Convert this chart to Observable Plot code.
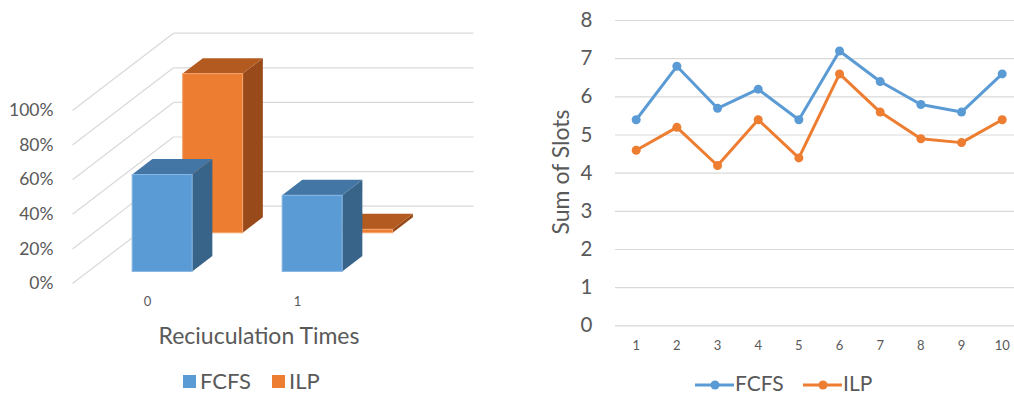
<!DOCTYPE html>
<html><head><meta charset="utf-8">
<script src="https://cdn.jsdelivr.net/npm/d3@7"></script>
<script src="https://cdn.jsdelivr.net/npm/@observablehq/plot@0.6"></script>
<style>
body{margin:0;background:#fff;font-family:Lato,"Open Sans",sans-serif;}
#wrap{position:relative;width:1014px;height:396px;overflow:hidden;background:#fff;color:#595959}
.abs{position:absolute;white-space:nowrap}
</style></head><body><div id="wrap"></div>
<script>
// ---- data ----
const categories = [0, 1];
const seriesNames = ["FCFS", "ILP"];
const fcfsShare = [0.56, 0.44];
const ilpShare = [0.92, 0.02];
const pctTicks = [0, 0.2, 0.4, 0.6, 0.8, 1];
const runs = [1, 2, 3, 4, 5, 6, 7, 8, 9, 10];
const fcfsSlots = [5.4, 6.8, 5.7, 6.2, 5.4, 7.2, 6.4, 5.8, 5.6, 6.6];
const ilpSlots = [4.6, 5.2, 4.2, 5.4, 4.4, 6.6, 5.6, 4.9, 4.8, 5.4];
const slotTicks = [0, 1, 2, 3, 4, 5, 6, 7, 8];
const leftXTitle = "Reciuculation Times";
const rightYTitle = "Sum of Slots";

// ---- styles ----
const TEXT = "#595959";
const GRID = "#D9D9D9";
const faceColors = {
  FCFS: {front: "#5B9BD5", top: "#4376A5", side: "#386489", edge: "#86B5E2"},
  ILP: {front: "#ED7D31", top: "#B35A20", side: "#984A1A", edge: "#F4A26C"}
};
const lineColors = ["#5B9BD5", "#ED7D31"];

// oblique 3D projection: depth t in [0,1] shifts x by KX category units, y by KY value units
const KX = 0.6733, KY = 0.4468, HALF = 0.2, DEPTH = 0.2;

const wrap = document.getElementById("wrap");

// ---- left: 3D column chart ----
const bars = [];
seriesNames.forEach((s, si) => {
  const vals = si === 0 ? fcfsShare : ilpShare;
  categories.forEach((c, ci) => {
    const t0 = si * 0.5 + 0.15, t1 = t0 + DEPTH;
    bars.push({series: s, cat: c, v: vals[ci], t0, t1, id: s + "-" + c});
  });
});
const fronts = bars.map(b => ({...b,
  x1: b.cat - HALF + b.t0 * KX, x2: b.cat + HALF + b.t0 * KX,
  y1: b.t0 * KY, y2: b.v + b.t0 * KY}));
const tops = bars.flatMap(b => [b.t0, b.t1].map(t => ({series: b.series, id: b.id,
  y: b.v + t * KY, x1: b.cat - HALF + t * KX, x2: b.cat + HALF + t * KX})));
const sides = bars.flatMap(b => [b.t0, b.t1].map(t => ({series: b.series, id: b.id,
  x: b.cat + HALF + t * KX, y1: t * KY, y2: b.v + t * KY})));

const xLo = categories[0] - 0.5, xHi = categories[categories.length - 1] + 0.5;
const backLines = pctTicks.map(v => ({x1: xLo + KX, x2: xHi + KX, y1: v + KY, y2: v + KY}));
const sideLines = pctTicks.map(v => ({x1: xLo, x2: xLo + KX, y1: v, y2: v + KY}));

const barMarks = [];
["ILP", "FCFS"].forEach(s => {
  const f = faceColors[s];
  barMarks.push(
    Plot.areaY(sides.filter(d => d.series === s), {x: "x", y1: "y1", y2: "y2", z: "id", fill: f.side}),
    Plot.areaX(tops.filter(d => d.series === s), {y: "y", x1: "x1", x2: "x2", z: "id", fill: f.top}),
    Plot.rect(fronts.filter(d => d.series === s), {x1: "x1", x2: "x2", y1: "y1", y2: "y2", fill: f.front, stroke: f.edge, strokeWidth: 1})
  );
});

const left = Plot.plot({
  width: 530, height: 396,
  marginLeft: 72, marginRight: 0, marginTop: 0, marginBottom: 106,
  style: {color: TEXT, fontFamily: "Lato, 'Open Sans', sans-serif", background: "transparent"},
  x: {domain: [xLo, xHi], range: [72, 372]},
  y: {domain: [0, 1], range: [283, 110]},
  marks: [
    Plot.link(backLines, {x1: "x1", x2: "x2", y1: "y1", y2: "y2", stroke: GRID, strokeWidth: 1.2}),
    Plot.link(sideLines, {x1: "x1", x2: "x2", y1: "y1", y2: "y2", stroke: GRID, strokeWidth: 1.2}),
    ...barMarks,
    Plot.axisY(pctTicks, {tickFormat: d3.format(".0%"), tickSize: 0, tickPadding: 19, fontSize: 17.5, label: null}),
    Plot.axisX(categories, {tickFormat: d => String(d), tickSize: 0, tickPadding: 6, fontSize: 13, label: null})
  ]
});
left.classList.add("abs");
left.style.left = "0px"; left.style.top = "0px";
wrap.appendChild(left);

// ---- right: line chart ----
const rows = [
  ...runs.map((r, i) => ({run: r, series: "FCFS", v: fcfsSlots[i]})),
  ...runs.map((r, i) => ({run: r, series: "ILP", v: ilpSlots[i]}))
];
const right = Plot.plot({
  width: 474, height: 396,
  marginLeft: 75, marginRight: 0, marginTop: 20, marginBottom: 59,
  style: {color: TEXT, fontFamily: "Lato, 'Open Sans', sans-serif", background: "transparent"},
  x: {domain: [1, 10], range: [95.7, 461.7]},
  y: {domain: [0, 8], range: [325.3, 20]},
  color: {domain: seriesNames, range: lineColors},
  marks: [
    Plot.gridY(slotTicks, {stroke: GRID, strokeOpacity: 1, strokeWidth: 1.2}),
    Plot.axisY(slotTicks, {tickSize: 0, tickPadding: 23, fontSize: 20.5, label: null}),
    Plot.axisX(runs, {tickSize: 0, tickPadding: 3, fontSize: 13, label: null}),
    Plot.line(rows, {x: "run", y: "v", z: "series", stroke: "series", strokeWidth: 3}),
    Plot.dot(rows, {x: "run", y: "v", fill: "series", r: 4.5})
  ]
});
right.classList.add("abs");
right.style.left = "540px"; right.style.top = "0px";
wrap.appendChild(right);

// ---- titles & legends ----
function addText(txt, x, y, size, extra) {
  const d = document.createElement("div");
  d.className = "abs";
  d.textContent = txt;
  d.style.left = x + "px"; d.style.top = y + "px";
  d.style.fontSize = size + "px"; d.style.lineHeight = "1";
  if (extra) Object.assign(d.style, extra);
  wrap.appendChild(d);
  return d;
}
addText(leftXTitle, 0, 324, 23, {width: "518px", textAlign: "center"});

// rotated y title of the right chart, centred at (560, 172)
addText(rightYTitle, 560 - 100, 172 - 12, 23, {width: "200px", textAlign: "center", lineHeight: "24px", transform: "rotate(-90deg)", transformOrigin: "100px 12px"});

// left legend (square swatches)
seriesNames.forEach((s, i) => {
  const sx = [183, 272][i];
  const sq = document.createElement("div");
  sq.className = "abs";
  Object.assign(sq.style, {left: sx + "px", top: "375px", width: "13px", height: "13px", background: faceColors[s].front});
  wrap.appendChild(sq);
  addText(s, sx + 17, 370, 22);
});

// right legend (line + dot swatches)
seriesNames.forEach((s, i) => {
  const sx = [695, 803][i];
  const ns = "http://www.w3.org/2000/svg";
  const svg = document.createElementNS(ns, "svg");
  svg.setAttribute("width", 40); svg.setAttribute("height", 12);
  svg.setAttribute("class", "abs");
  svg.style.left = sx + "px"; svg.style.top = "379px";
  const ln = document.createElementNS(ns, "line");
  ln.setAttribute("x1", 0); ln.setAttribute("x2", 39); ln.setAttribute("y1", 6); ln.setAttribute("y2", 6);
  ln.setAttribute("stroke", lineColors[i]); ln.setAttribute("stroke-width", 3);
  const c = document.createElementNS(ns, "circle");
  c.setAttribute("cx", 20); c.setAttribute("cy", 6); c.setAttribute("r", 4.5); c.setAttribute("fill", lineColors[i]);
  svg.appendChild(ln); svg.appendChild(c);
  wrap.appendChild(svg);
  addText(s, sx + 40, 372, 21);
});
</script>
</body></html>
